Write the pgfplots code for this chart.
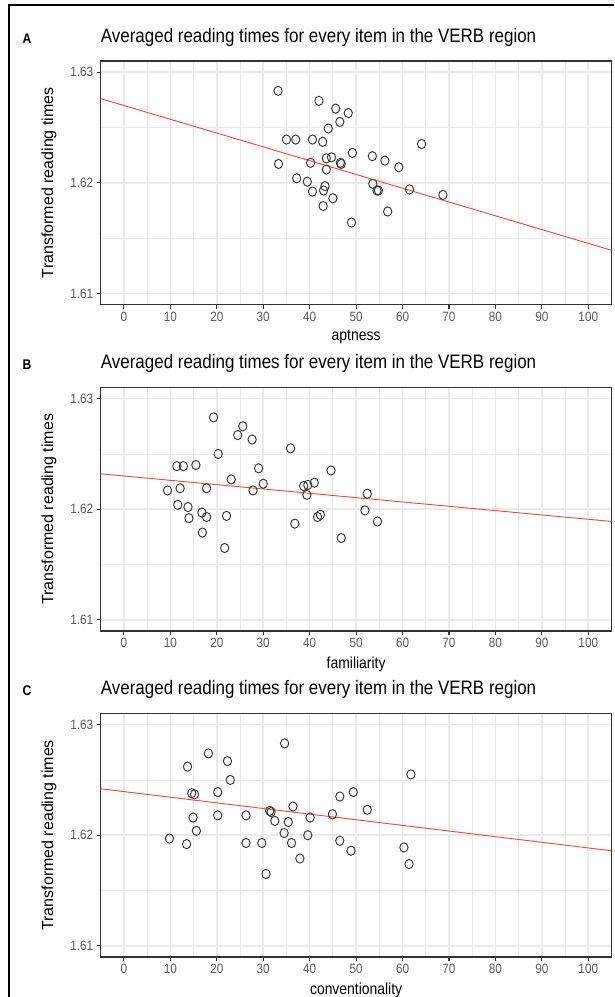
\documentclass[border=0pt]{standalone}
\usepackage{fontspec}
\setmainfont[FakeStretch=0.87]{Liberation Sans}
\newfontfamily\ylabfont{Liberation Sans}
\usepackage{pgfplots}
\usepackage{pgfplotstable}
\pgfplotsset{compat=1.18}
\definecolor{gray92}{HTML}{EBEBEB}
\definecolor{gray20}{HTML}{333333}
\definecolor{gray30}{HTML}{5A5A5A}
\definecolor{fitred}{HTML}{FF4040}

\pgfplotstableread{
x y
33.2 1.6283
42.0 1.6274
45.6 1.6267
48.3 1.6263
46.5 1.6255
44.0 1.6249
35.0 1.6239
37.0 1.6239
40.6 1.6239
42.8 1.6237
64.1 1.6235
49.2 1.6227
53.5 1.6224
56.2 1.6220
43.6 1.6222
44.7 1.6223
46.6 1.6218
46.8 1.6217
40.2 1.6218
33.3 1.6217
59.2 1.6214
43.6 1.6212
37.2 1.6204
39.5 1.6201
43.3 1.6197
53.6 1.6199
43.0 1.6193
40.6 1.6192
54.5 1.6193
54.8 1.6193
61.5 1.6194
68.7 1.6189
45.0 1.6186
42.9 1.6179
56.8 1.6174
49.0 1.6164
}\dataA

\pgfplotstableread{
x y
19.3 1.6283
25.6 1.6275
24.5 1.6267
27.6 1.6263
35.9 1.6255
20.3 1.6250
11.4 1.6239
12.8 1.6239
15.5 1.6240
29.0 1.6237
44.6 1.6235
23.1 1.6227
30.0 1.6223
9.4 1.6217
12.1 1.6219
17.8 1.6219
27.8 1.6217
38.7 1.6221
39.6 1.6222
41.0 1.6224
39.4 1.6213
52.4 1.6214
11.6 1.6204
13.8 1.6202
51.9 1.6199
16.8 1.6197
14.0 1.6192
17.8 1.6193
22.1 1.6194
41.7 1.6193
42.3 1.6195
36.8 1.6187
54.6 1.6189
16.9 1.6179
46.8 1.6174
21.7 1.6165
}\dataB

\pgfplotstableread{
x y
34.6 1.6283
18.2 1.6274
22.3 1.6267
13.7 1.6262
61.8 1.6255
22.9 1.6250
14.6 1.6238
15.2 1.6237
20.2 1.6239
49.4 1.6239
46.5 1.6235
36.4 1.6226
52.4 1.6223
31.4 1.6222
31.7 1.6221
44.9 1.6219
20.2 1.6218
26.3 1.6218
40.1 1.6216
14.9 1.6216
32.5 1.6213
35.4 1.6212
15.6 1.6204
34.5 1.6202
39.6 1.6200
9.8 1.6197
46.5 1.6195
13.5 1.6192
26.3 1.6193
29.7 1.6193
36.1 1.6193
60.3 1.6189
48.9 1.6186
37.9 1.6179
61.4 1.6174
30.6 1.6165
}\dataC

\pgfplotsset{
  panel/.style={
    scale only axis, width=510.8pt, height=243.5pt,
    xmin=-5, xmax=105, ymin=1.609, ymax=1.631,
    xtick={0,10,...,100}, ytick={1.61,1.62,1.63},
    yticklabels={1.61,1.62,1.63},
    minor xtick={5,15,...,95}, minor ytick={1.615,1.625},
    grid=both,
    major grid style={color=gray92, line width=1.6pt},
    minor grid style={color=gray92, line width=0.8pt},
    axis line style={color=gray20, line width=1.1pt},
    tick style={color=gray20, line width=1.1pt},
    major tick length=4pt, minor tick length=0pt,
    tick align=outside, xtick pos=bottom, ytick pos=left,
    ticklabel style={font=\fontsize{13.5}{16}\selectfont, text=gray30},
    /pgf/number format/assume math mode=true,
    xlabel style={font=\fontsize{16}{19}\selectfont, text=black},
    ylabel style={font=\ylabfont\fontsize{16}{19}\selectfont, text=black},
    ylabel shift=7pt, xlabel shift=2pt,
    ylabel={Transformed reading times},
    title style={font=\fontsize{19.5}{23}\selectfont, at={(axis description cs:0,1)}, anchor=base west, yshift=13pt, inner sep=0pt},
    title={Averaged reading times for every item in the VERB region},
  },
  pts/.style={only marks, mark=o, mark size=4.6pt, mark options={xscale=0.9, draw=black!78, line width=0.95pt}},
  fit/.style={fitred, line width=0.9pt, no marks},
}

\begin{document}
\begin{tikzpicture}
\path[use as bounding box] (0,0) rectangle (614pt,-997pt);
\draw[line width=2pt, black] (9pt,-997pt) -- (9pt,-5pt) -- (614pt,-5pt);

% Panel A
\begin{axis}[panel, at={(100.7pt,-304.5pt)}, anchor=south west, xlabel={aptness}]
\addplot[pts] table[x=x,y=y] {\dataA};
\addplot[fit] coordinates {(-5,1.6276) (105,1.6139)};
\end{axis}
\node[font=\bfseries\fontsize{14}{16}\selectfont] at (27pt,-38.3pt) {A};

% Panel B
\begin{axis}[panel, at={(100.7pt,-631pt)}, anchor=south west, xlabel={familiarity}]
\addplot[pts] table[x=x,y=y] {\dataB};
\addplot[fit] coordinates {(-5,1.6232) (105,1.6189)};
\end{axis}
\node[font=\bfseries\fontsize{14}{16}\selectfont] at (27pt,-364.5pt) {B};

% Panel C
\begin{axis}[panel, at={(100.7pt,-957pt)}, anchor=south west, xlabel={conventionality}]
\addplot[pts] table[x=x,y=y] {\dataC};
\addplot[fit] coordinates {(-5,1.6242) (105,1.6186)};
\end{axis}
\node[font=\bfseries\fontsize{14}{16}\selectfont] at (27pt,-691pt) {C};
\end{tikzpicture}
\end{document}
